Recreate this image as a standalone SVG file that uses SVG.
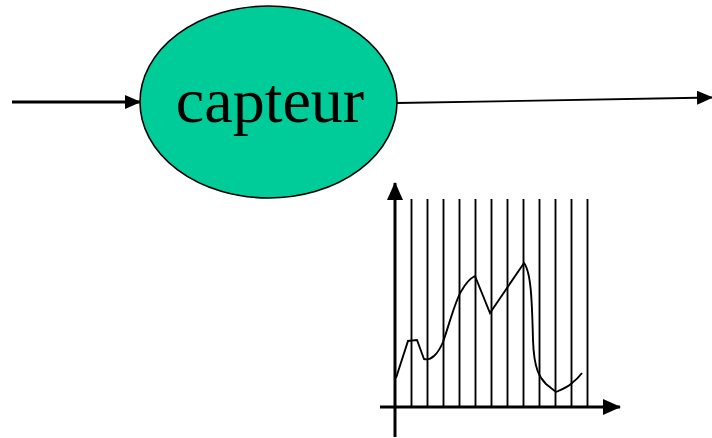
<svg xmlns="http://www.w3.org/2000/svg" width="712" height="438" viewBox="0 0 712 438">
<style>
.ax{stroke:#000;stroke-width:3;fill:none}
.grid{stroke:#000;stroke-width:1.9}
.lbl{font-family:"Liberation Serif","Times New Roman",serif;font-size:64px;fill:#000}
</style>
<defs>
<marker id="ah" markerWidth="16" markerHeight="14" refX="15" refY="7" orient="auto" markerUnits="userSpaceOnUse">
<path d="M0,0 L16,7 L0,14 Z" fill="#000"/>
</marker>
<marker id="ah2" markerWidth="18" markerHeight="16" refX="17" refY="8" orient="auto" markerUnits="userSpaceOnUse">
<path d="M0,0 L18,8 L0,16 Z" fill="#000"/>
</marker>
</defs>
<rect width="712" height="438" fill="#fff"/>
<g id="connectors">
<line x1="12" y1="102" x2="140" y2="102" class="ax" marker-end="url(#ah)"/>
<line x1="397" y1="103" x2="712" y2="97.5" stroke="#000" stroke-width="1.8" marker-end="url(#ah)"/>
</g>
<g id="capteur">
<ellipse cx="268.5" cy="102" rx="128.5" ry="96" fill="#00CC99" stroke="#000" stroke-width="1.6"/>
<text x="270" y="122" text-anchor="middle" class="lbl">capteur</text>
</g>
<g id="chart">
<g class="grid">
<line x1="411.5" y1="199" x2="411.5" y2="407"/>
<line x1="427.5" y1="199" x2="427.5" y2="407"/>
<line x1="443.5" y1="199" x2="443.5" y2="407"/>
<line x1="459.5" y1="199" x2="459.5" y2="407"/>
<line x1="475.5" y1="199" x2="475.5" y2="407"/>
<line x1="491.5" y1="199" x2="491.5" y2="407"/>
<line x1="507.5" y1="199" x2="507.5" y2="407"/>
<line x1="523.5" y1="199" x2="523.5" y2="407"/>
<line x1="539.5" y1="199" x2="539.5" y2="407"/>
<line x1="555.5" y1="199" x2="555.5" y2="407"/>
<line x1="571.5" y1="199" x2="571.5" y2="407"/>
<line x1="587.5" y1="199" x2="587.5" y2="407"/>
</g>
<line x1="395" y1="437" x2="395" y2="183" class="ax" marker-end="url(#ah2)"/>
<line x1="380" y1="407" x2="620" y2="407" class="ax" marker-end="url(#ah2)"/>
<path d="M396,378 L408,341 L417,340 L424,359 C431,361 438,354 443,342 C450,322 456,298 462,290 C466,283 471,278 475,276 L490,313 L524,263 C531,272 532,300 533,340 C534,370 540,378 546,384 L556,392 C563,389 568,387 572,383 C576,380 579,377 582,373" fill="none" stroke="#000" stroke-width="1.9"/>
</g>
</svg>
